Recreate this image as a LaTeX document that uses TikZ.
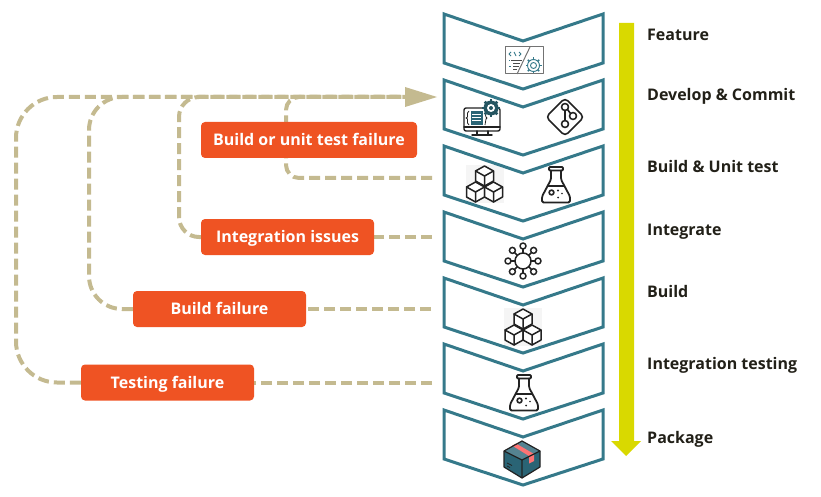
\documentclass[tikz,border=0pt]{standalone}
\usepackage{fontspec}
\setmainfont{Open Sans}
\usetikzlibrary{backgrounds}
\definecolor{frameteal}{HTML}{35798A}
\definecolor{icondark}{HTML}{222222}
\definecolor{boxteal}{HTML}{2A6475}
\definecolor{failred}{HTML}{EF5323}
\definecolor{dashtan}{HTML}{C4BA90}
\definecolor{flowyellow}{HTML}{D9D900}
\definecolor{labelink}{HTML}{222018}
\tikzset{
	stage/.style={frameteal,line width=3,line join=miter},
	flowlabel/.style={anchor=base west,inner sep=0,font=\fontsize{16}{18}\selectfont\bfseries,text=labelink},
	failbox/.style={fill=failred,rounded corners=4,minimum height=36,inner sep=0,text height=15,text depth=4,font=\fontsize{16}{18}\selectfont\bfseries,text=white},
	failline/.style={dashtan,line width=4,line cap=butt,dash pattern=on 11 off 5},
	iconline/.style={icondark,line width=1.4,line join=round,line cap=round},
	cubes/.pic={
		\fill[black!4] (-19,-19) rectangle (19,19);
		\foreach \cx/\cy in {0/-8,-9/8,9/8}{
			\draw[iconline,line width=1.5,fill=white] (\cx,\cy-10) -- (\cx+9,\cy-5) -- (\cx+9,\cy+5) -- (\cx,\cy+10) -- (\cx-9,\cy+5) -- (\cx-9,\cy-5) -- cycle;
			\draw[iconline,line width=1.5] (\cx-9,\cy-5) -- (\cx,\cy) -- (\cx+9,\cy-5) (\cx,\cy) -- (\cx,\cy+10);
		}
	},
	flask/.pic={
		\draw[iconline,line width=1.8,rounded corners=1.5] (-5,-14) -- (-5,-5) -- (-14,12) -- (-14,18) -- (14,18) -- (14,12) -- (5,-5) -- (5,-14);
		\draw[iconline,line width=1.8,rounded corners=1] (-7,-17.5) rectangle (7,-14);
		\draw[iconline] (-8.5,1.5) -- (8.5,1.5);
		\draw[iconline,line width=1.6] (-4.5,8) circle (2.4);
		\fill[icondark] (2,6) circle (1.1) (6,9) circle (.9) (2,13) circle (1);
	},
	gearicon/.pic={
		\foreach \a in {0,45,...,315}{\draw[frameteal!70!black,line width=2.5,line cap=butt] (0,0) -- (\a:9);}
		\fill[frameteal!70!black] (0,0) circle (7.5);
		\fill[white] (0,0) circle (4);
		\fill[frameteal!70!black] (0,0) circle (2);
	}
}
\begin{document}
\begin{tikzpicture}[x=1pt,y=-1pt,line join=round,>=stealth]
	\useasboundingbox (0,0) rectangle (821,497);
	% build and unit test
	\pic at (484.5,184) {cubes};
	\pic at (556,184.5) {flask};
	% build, testing
	\pic at (523,327) {cubes};
	\pic at (524,392.5) {flask};
	
	\foreach \y in {0,66,...,396}{
		\draw[stage] (444,14+\y) -- (523,41+\y) -- (603,14+\y) -- (603,63+\y) -- (523,89+\y) -- (444,63+\y) -- cycle;
	}
	
	\fill[flowyellow] (619,23) -- (634,23) -- (634,441) -- (641,441) -- (626,456) -- (611,441) -- (619,441) -- cycle;
	
	\node[flowlabel] (feature) at (647,41) {Feature};
	\node[flowlabel] (develop) at (647,101) {Develop \& Commit};
	\node[flowlabel] (unit) at (647,172.7) {Build \& Unit test};
	\node[flowlabel] (integrate) at (647,235) {Integrate};
	\node[flowlabel] (build) at (647,297.7) {Build};
	\node[flowlabel] (testing) at (647,369) {Integration testing};
	\node[flowlabel] (package) at (647,443.7) {Package};
	
	\node[failbox,minimum width=216] (unitfail) at (309,140) {Build or unit test failure};
	\node[failbox,minimum width=173] (integfail) at (287.5,237) {Integration issues};
	\node[failbox,minimum width=173] (buildfail) at (219.5,309) {Build failure};
	\node[failbox,minimum width=173] (testfail) at (167.5,382.5) {Testing failure};
	
	\coordinate (tip) at (437,97);
	\coordinate (tail) at (405,97);
	\coordinate (unitend) at (432,178);
	\coordinate (integend) at (432,237);
	\coordinate (buildend) at (431,309);
	\coordinate (testend) at (432,382.5);
	
	\begin{scope}[on background layer]
		\draw[failline,rounded corners=13] (unitend) -- (286,178) -- (286,97) -- (tail);
		\draw[failline] (integend) -- (integfail.east);
		\draw[failline,rounded corners=20] (integfail.west) -- (179,237) -- (179,97) -- (tail);
		\draw[failline] (buildend) -- (buildfail.east);
		\draw[failline,rounded corners=33] (buildfail.west) -- (89,309) -- (89,97) -- (tail);
		\draw[failline] (testend) -- (testfail.east);
		\draw[failline,rounded corners=41] (testfail.west) -- (16,382.5) -- (16,97) -- (tail);
	\end{scope}
	\fill[dashtan] (tip) -- (405,87) -- (405,107) -- cycle;
	
	% feature
	\draw[black!55,line width=1,fill=white] (505,47) rectangle (543,74);
	\draw[frameteal,line width=.9] (533.5,65.5) circle (3);
	\draw[frameteal,line width=.9] (533.5,65.5) circle (6);
	\foreach \a in {0,45,...,315}{\draw[frameteal,line width=1.6,line cap=butt] (533.5,65.5) ++(\a:6) -- ++(\a:2);}
	\draw[black!55,line width=1] (530,47) -- (517,74);
	\draw[frameteal,line width=.9] (511,52) -- (509,54) -- (511,56) (516,56) -- (514,52) (519,52) -- (521,54) -- (519,56);
	\draw[black!70,line width=.9] (511,60) -- (522,60) (513,63) -- (520,63) (513,66) -- (519,66) (513,69) -- (517,69);
	\draw[frameteal,line width=.9] (509,60) -- (510,60) (509,66) -- (511,66);
	
	% develop
	\draw[iconline,rounded corners=2] (464,108) rectangle (500,131);
	\draw[iconline] (464,127) -- (500,127) (477,131) -- (477,134) (488,131) -- (488,134) (472,135) -- (492,135);
	\fill[boxteal] (470.5,111) rectangle (483,125);
	\draw[white,line width=.6] (472,114) -- (481,114) (472,117) -- (481,117) (472,120) -- (481,120);
	\draw[icondark,line width=.8] (469,111) -- (467.5,113) -- (467.5,117) -- (466,118) -- (467.5,119) -- (467.5,123) -- (469,125);
	\draw[icondark,line width=.8] (485,113) -- (486,117) -- (487,118) -- (486,119) -- (485,125);
	\pic at (491,108) {gearicon};
	
	\draw[iconline,line width=1.6,rounded corners=4] (565,98) -- (584,117) -- (565,136) -- (546,117) -- cycle;
	\draw[iconline,line width=1.6] (565,110.5) -- (565,120.5) (567.5,109.5) -- (570.5,113.5);
	\draw[iconline,line width=1.6] (565,107) circle (3.5) (573,116) circle (3.5) (565,124) circle (3.5);
	
	% integrate
	\draw[iconline,line width=1.5] (523,261) circle (8);
	\foreach \a in {0,45,...,315}{
		\draw[iconline,line width=1.5] (523,261) ++(\a:8) -- ++(\a:4);
		\draw[iconline,line width=1.5] (523,261) ++(\a:15) circle (3);
	}
	
	% package
	\fill[boxteal] (522,441) -- (540,451) -- (540,467) -- (522,478) -- (504,467) -- (504,451) -- cycle;
	\fill[boxteal!80!white] (522,441) -- (540,451) -- (522,460) -- (504,451) -- cycle;
	\fill[red!55!white] (512,445.5) -- (516,443.5) -- (534,454) -- (534,461) -- (529,463.5) -- (529,456) -- cycle;
	\draw[icondark,line width=1.2] (522,441) -- (540,451) -- (540,467) -- (522,478) -- (504,467) -- (504,451) -- cycle;
	\draw[icondark,line width=1.2] (504,451) -- (522,460) -- (540,451) (522,460) -- (522,478);
	\draw[icondark,line width=.7] (507,463) -- (512,465.5) (507,466) -- (510,467.5);
\end{tikzpicture}
\end{document}
